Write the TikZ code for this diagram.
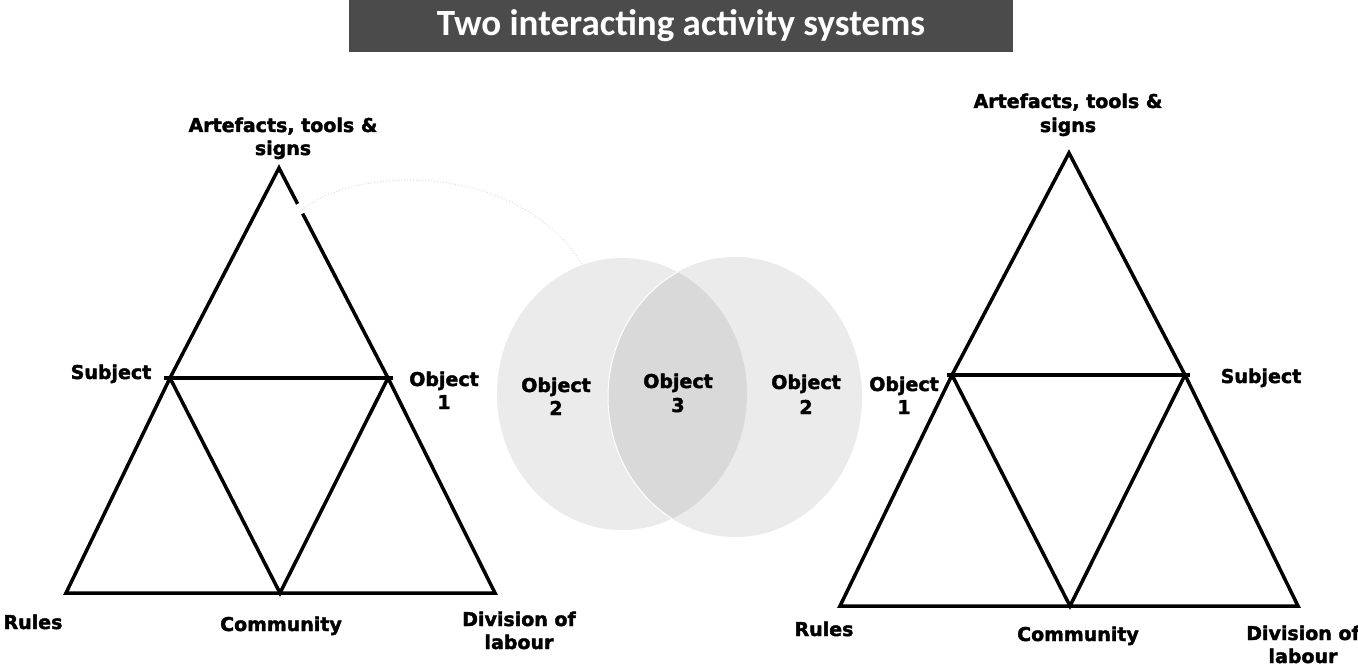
\documentclass[tikz,border=0pt]{standalone}
\usepackage{fontspec}
\setmainfont{DejaVu Sans}[BoldFeatures={FakeBold=2}]
\newfontfamily\titlefont{Carlito}
\usetikzlibrary{calc}
\definecolor{barcol}{HTML}{4B4B4B}
\definecolor{circ}{HTML}{EBEBEB}
\definecolor{lens}{HTML}{D9D9D9}
\begin{document}
\begin{tikzpicture}[x=1pt,y=-1pt,
  edge/.style={line width=3.5pt,black},
  lbl/.style={font=\fontsize{19}{23}\selectfont\bfseries,anchor=base,inner sep=0pt}]
\useasboundingbox (0,0) rectangle (1358,666);
\fill[white] (0,0) rectangle (1358,666);

% title
\node[fill=barcol, minimum width=664pt, minimum height=52pt, inner sep=0pt, text=white,
      font=\titlefont\bfseries\fontsize{37}{40}\selectfont] (title) at (681,26) {Two interacting activity systems};

% faint dotted arc
\draw[gray!25, dotted, line width=1pt] (300,212) .. controls (350,165) and (520,160) .. (583,266);

% overlapping objects
\fill[circ] (622,394) ellipse [x radius=125pt, y radius=136pt];
\fill[circ] (735,397) ellipse [x radius=127pt, y radius=140pt];
\begin{scope}
  \clip (622,394) ellipse [x radius=125pt, y radius=136pt];
  \fill[lens] (735,397) ellipse [x radius=127pt, y radius=140pt];
  \draw[white, line width=1pt] (735,397) ellipse [x radius=127pt, y radius=140pt];
\end{scope}

% left triangle
\coordinate (LA) at (279,168);
\coordinate (LS) at (170,378);
\coordinate (LO) at (388,378);
\coordinate (LR) at (66,593);
\coordinate (LD) at (495,593);
\coordinate (LC) at (280,593);
\coordinate (LG1) at ($(LA)!0.171!(LO)$);
\coordinate (LG2) at ($(LA)!0.217!(LO)$);
\draw[edge] (LS) -- (LA) -- (LG1);
\draw[edge] (LG2) -- (LO);
\draw[edge] ($(LS)+(-6,0)$) -- ($(LO)+(5,0)$);
\draw[edge] (LS) -- (LR) -- (LD) -- (LO);
\draw[edge] (LS) -- (LC) -- (LO);

% right triangle
\coordinate (RA) at (1069,153);
\coordinate (RO) at (952,375);
\coordinate (RS) at (1185,375);
\coordinate (RR) at (840,606);
\coordinate (RD) at (1298,606);
\coordinate (RC) at (1070,606);
\draw[edge] (RO) -- (RA) -- (RS);
\draw[edge] ($(RO)+(-5,0)$) -- ($(RS)+(5,0)$);
\draw[edge] (RO) -- (RR) -- (RD) -- (RS);
\draw[edge] (RO) -- (RC) -- (RS);

% left labels
\node[lbl] (lart1) at (283,132) {Artefacts, tools \&};
\node[lbl] (lart2) at (283,155) {signs};
\node[lbl] (lsub) at (111,379) {Subject};
\node[lbl] (lobj1) at (444,386) {Object};
\node[lbl] (lobj2) at (444,409) {1};
\node[lbl] (lrul) at (33,629) {Rules};
\node[lbl] (lcom) at (281,631) {Community};
\node[lbl] (ldiv1) at (519,626) {Division of};
\node[lbl] (ldiv2) at (519,649) {labour};

% circle labels
\node[lbl] (ob2a) at (556,392) {Object};
\node[lbl] (ob2b) at (556,415) {2};
\node[lbl] (ob3a) at (678,388) {Object};
\node[lbl] (ob3b) at (678,412) {3};
\node[lbl] (ob4a) at (806,389) {Object};
\node[lbl] (ob4b) at (806,414) {2};

% right labels
\node[lbl] (rart1) at (1068,108) {Artefacts, tools \&};
\node[lbl] (rart2) at (1068,132) {signs};
\node[lbl] (robj1) at (904,391) {Object};
\node[lbl] (robj2) at (904,414) {1};
\node[lbl] (rsub) at (1261,383) {Subject};
\node[lbl] (rrul) at (824,636) {Rules};
\node[lbl] (rcom) at (1078,641) {Community};
\node[lbl] (rdiv1) at (1303,640) {Division of};
\node[lbl] (rdiv2) at (1303,663) {labour};
\end{tikzpicture}
\end{document}
